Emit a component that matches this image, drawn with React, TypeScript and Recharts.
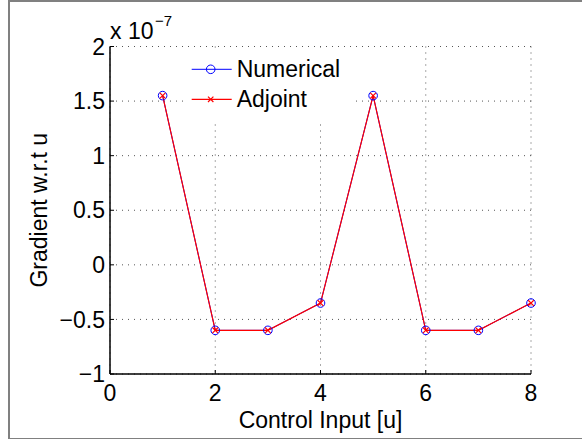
import React from 'react';
import { LineChart, Line, XAxis, YAxis, CartesianGrid, Legend, Label } from 'recharts';

const controlInputs = [1, 2, 3, 4, 5, 6, 7, 8];
const numericalGradient = [1.55e-7, -0.6e-7, -0.6e-7, -0.35e-7, 1.55e-7, -0.6e-7, -0.6e-7, -0.35e-7];
const adjointGradient = [1.55e-7, -0.6e-7, -0.6e-7, -0.35e-7, 1.55e-7, -0.6e-7, -0.6e-7, -0.35e-7];
const xTicks = [0, 2, 4, 6, 8];
const yTicks = [-1e-7, -0.5e-7, 0, 0.5e-7, 1e-7, 1.5e-7, 2e-7];
const yScale = 1e-7;

const data = controlInputs.map((u, i) => ({
  u,
  numerical: numericalGradient[i],
  adjoint: adjointGradient[i],
}));

const FONT = '"Liberation Sans", Arial, Helvetica, sans-serif';
const BLUE = '#0000ff';
const RED = '#ff0000';

const fmtY = (v: number) => {
  const m = Math.round((v / yScale) * 10) / 10;
  return m < 0 ? '\u2212' + Math.abs(m) : String(m);
};

const CircleDot = (p: any) => {
  if (p.cx == null || p.cy == null) return <g key={p.index} />;
  return <circle key={p.index} cx={p.cx} cy={p.cy} r={4.3} fill="none" stroke={BLUE} strokeWidth={1} />;
};

const CrossDot = (p: any) => {
  if (p.cx == null || p.cy == null) return <g key={p.index} />;
  const s = 2.8;
  return (
    <path
      key={p.index}
      d={`M${p.cx - s},${p.cy - s}L${p.cx + s},${p.cy + s}M${p.cx - s},${p.cy + s}L${p.cx + s},${p.cy - s}`}
      stroke={RED}
      strokeWidth={1.2}
      fill="none"
    />
  );
};

const LegendBox = () => (
  <svg width={168} height={68} style={{ display: 'block' }}>
    <rect x={0} y={0} width={168} height={68} fill="#fff" />
    <line x1={8.7} x2={48.7} y1={17.3} y2={17.3} stroke={BLUE} strokeWidth={1} />
    <circle cx={27.7} cy={17.3} r={4.3} fill="none" stroke={BLUE} />
    <text x={53.7} y={24.7} fontSize={23} fontFamily={FONT} fill="#000">Numerical</text>
    <line x1={8.7} x2={48.7} y1={47.3} y2={47.3} stroke={RED} strokeWidth={1.2} />
    <path d="M25,44.6L30.4,50M25,50L30.4,44.6" stroke={RED} strokeWidth={1.2} fill="none" />
    <text x={53.7} y={54.7} fontSize={23} fontFamily={FONT} fill="#000">Adjoint</text>
  </svg>
);

const ExponentLabel = (p: any) => {
  const vb = p.viewBox || { x: 0, y: 46.5, width: 110 };
  const x = vb.x + vb.width;
  const y = vb.y - 7.5;
  return (
    <text x={x} y={y} fontFamily={FONT} fill="#000">
      <tspan fontSize={23}>x 10</tspan>
      <tspan fontSize={15} dx={1.5} dy={-13}>{'\u22127'}</tspan>
    </text>
  );
};

export default function App() {
  return (
    <div style={{ position: 'absolute', left: 0, top: 0, width: 582, height: 439, background: '#fff' }}>
      <div
        style={{
          position: 'absolute',
          left: 8,
          top: 0,
          width: 600,
          height: 436,
          border: '2px solid #808080',
        }}
      />
      <div style={{ position: 'absolute', left: 0, top: 0 }}>
        <LineChart width={582} height={439} data={data} margin={{ top: 46.5, right: 51, left: 0, bottom: 0 }}>
          <CartesianGrid stroke="#555" strokeDasharray="1 5" />
          <XAxis
            dataKey="u"
            type="number"
            domain={[0, 8]}
            ticks={xTicks}
            interval={0}
            height={65}
            tick={{ fill: '#000', fontSize: 23, fontFamily: FONT }}
            tickSize={-4}
            tickMargin={15}
            axisLine={{ stroke: '#000', strokeWidth: 1.5 }}
            tickLine={{ stroke: '#000' }}
          >
            <Label value="Control Input [u]" position="center" dy={13} fontSize={23} fontFamily={FONT} fill="#000" />
          </XAxis>
          <YAxis
            type="number"
            domain={[-1e-7, 2e-7]}
            ticks={yTicks}
            interval={0}
            width={110}
            tickFormatter={fmtY}
            tick={{ fill: '#000', fontSize: 23, fontFamily: FONT }}
            tickSize={-4}
            tickMargin={9}
            axisLine={{ stroke: '#000', strokeWidth: 1.5 }}
            tickLine={{ stroke: '#000' }}
          >
            <Label value="Gradient w.r.t u" angle={-90} position="center" dx={-16} fontSize={23} fontFamily={FONT} fill="#000" />
            <Label content={ExponentLabel} />
          </YAxis>
          <Legend
            layout="vertical"
            verticalAlign="middle"
            align="center"
            wrapperStyle={{ left: 183, top: 52, width: 168, height: 68 }}
            content={() => <LegendBox />}
          />
          <Line
            dataKey="numerical"
            stroke={BLUE}
            strokeWidth={1}
            dot={CircleDot}
            activeDot={false}
            isAnimationActive={false}
          />
          <Line
            dataKey="adjoint"
            stroke={RED}
            strokeWidth={1.2}
            dot={CrossDot}
            activeDot={false}
            isAnimationActive={false}
          />
        </LineChart>
      </div>
    </div>
  );
}
